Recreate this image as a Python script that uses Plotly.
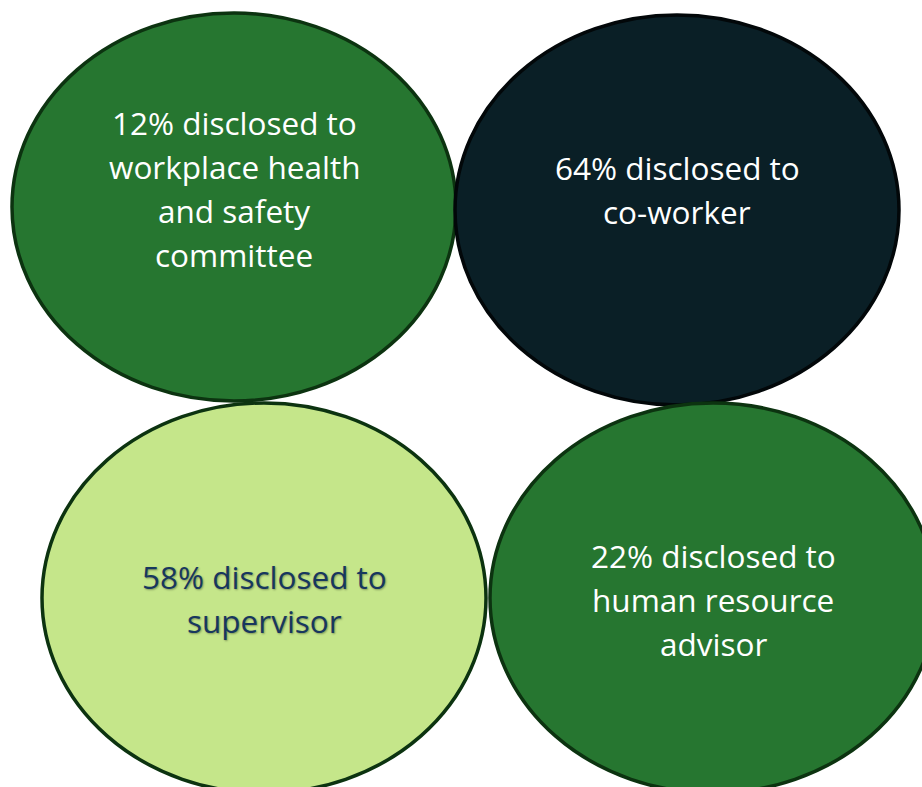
import plotly.graph_objects as go

# Data
percentages = [12, 64, 58, 22]
recipients = [
    "workplace health<br>and safety<br>committee",
    "co-worker",
    "supervisor",
    "human resource<br>advisor",
]

# Layout (pixel-space geometry)
centers_x = [234, 677, 264, 713]
centers_y = [207, 210, 598, 598]
radius_x = [222, 222, 222, 223]
radius_y = [194, 195, 195, 195]
text_center_y = [188, 189, 598, 599]
fills = ["#267630", "#0a1f26", "#c5e68a", "#267630"]
outlines = ["#0c3310", "#020709", "#0c3310", "#0c3310"]
text_colors = ["#ffffff", "#ffffff", "#17375e", "#ffffff"]
shadows = ["none", "none", "1px 1px 2px rgba(0,0,0,0.35)", "none"]

W, H = 922, 787
LINE_GAP = 44

fig = go.Figure()
fig.add_trace(go.Scatter(x=[0, W], y=[0, H], mode="markers",
                         marker=dict(opacity=0), hoverinfo="skip", showlegend=False))

for i, (pct, who) in enumerate(zip(percentages, recipients)):
    fig.add_shape(type="circle", xref="x", yref="y",
                  x0=centers_x[i] - radius_x[i], x1=centers_x[i] + radius_x[i],
                  y0=centers_y[i] - radius_y[i], y1=centers_y[i] + radius_y[i],
                  fillcolor=fills[i], line=dict(color=outlines[i], width=3.5), layer="below")
    lines = f"{pct}% disclosed to<br>{who}".split("<br>")
    n = len(lines)
    for j, ln in enumerate(lines):
        fig.add_annotation(x=centers_x[i], y=text_center_y[i] + (j - (n - 1) / 2) * LINE_GAP,
                           xref="x", yref="y", text=ln, showarrow=False,
                           xanchor="center", yanchor="middle",
                           font=dict(family="Open Sans", size=31.5, color=text_colors[i],
                                     shadow=shadows[i]))

fig.update_layout(
    width=W, height=H,
    margin=dict(l=0, r=0, t=0, b=0),
    paper_bgcolor="white", plot_bgcolor="white",
    xaxis=dict(range=[0, W], visible=False, fixedrange=True),
    yaxis=dict(range=[H, 0], visible=False, fixedrange=True),
    showlegend=False,
)

fig.write_html("out.html")
